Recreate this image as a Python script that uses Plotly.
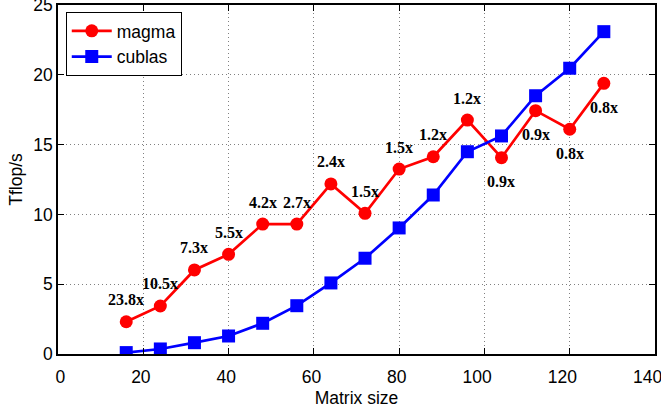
import plotly.graph_objects as go

matrix_size = [16, 24, 32, 40, 48, 56, 64, 72, 80, 88, 96, 104, 112, 120, 128]
magma = [2.31, 3.44, 6.02, 7.14, 9.31, 9.31, 12.18, 10.08, 13.25, 14.13, 16.76, 14.06, 17.43, 16.10, 19.39]
cublas = [0.10, 0.36, 0.81, 1.29, 2.20, 3.46, 5.09, 6.86, 9.03, 11.39, 14.49, 15.62, 18.50, 20.47, 23.09]
speedup = ["23.8x", "10.5x", "7.3x", "5.5x", "4.2x", "2.7x", "2.4x", "1.5x", "1.5x", "1.2x",
           "1.2x", "0.9x", "0.9x", "0.8x", "0.8x"]
label_below = [False] * 11 + [True] * 4
x_tick_vals = [0, 20, 40, 60, 80, 100, 120, 140]
x_tick_text = ["0", "20", "40", "60", "80", "100", "120", "140"]

NB = "\u00a0"
def pad(s):
    # gnuplot-like label placement: short labels sit right, long ones left
    if len(s) == 1:
        return NB + s
    return s + NB * (2 * len(s) - 3)

fig = go.Figure()
fig.add_trace(go.Scatter(x=matrix_size, y=magma, mode="lines+markers", name="magma",
                         line=dict(color="#ff0000", width=2.7),
                         marker=dict(symbol="circle", size=13, color="#ff0000")))
fig.add_trace(go.Scatter(x=matrix_size, y=cublas, mode="lines+markers", name="cublas",
                         line=dict(color="#0000ff", width=2.7),
                         marker=dict(symbol="square", size=13, color="#0000ff")))

for xv, yv, txt, below in zip(matrix_size, magma, speedup, label_below):
    fig.add_annotation(x=xv, y=yv, text=txt, showarrow=False,
                       yshift=-24 if below else 22,
                       font=dict(family="Liberation Serif", size=16, color="black", weight="bold"))

axis_common = dict(showline=True, linecolor="black", linewidth=1.5, mirror="ticks",
                   ticks="inside", ticklen=6, tickcolor="black",
                   showgrid=True, gridcolor="#808080", griddash="1px,3px", gridwidth=1,
                   zeroline=False, ticklabeloverflow="allow", automargin=False,
                   tickfont=dict(family="Liberation Sans", size=17.5, color="black"))

fig.update_xaxes(range=[0, 140.0001], tickmode="array", tickvals=x_tick_vals,
                 ticktext=[pad(t) for t in x_tick_text], ticklabelstandoff=6,
                 title=dict(text="Matrix size", standoff=6,
                            font=dict(family="Liberation Sans", size=17.5, color="black")),
                 **axis_common)
fig.update_yaxes(range=[0, 25.0001], dtick=5, tick0=0,
                 title=dict(text="Tflop/s", standoff=6,
                            font=dict(family="Liberation Sans", size=17.5, color="black")),
                 **axis_common)

fig.update_layout(width=661, height=413,
                  margin=dict(l=57.5, r=6, t=5, b=59, autoexpand=False),
                  plot_bgcolor="white", paper_bgcolor="white",
                  showlegend=True,
                  legend=dict(x=0.013, y=0.98, xanchor="left", yanchor="top",
                              bordercolor="black", borderwidth=1, bgcolor="white",
                              font=dict(family="Liberation Sans", size=17.5, color="black"),
                              itemwidth=40, tracegroupgap=0))

fig.write_html("out.html")
